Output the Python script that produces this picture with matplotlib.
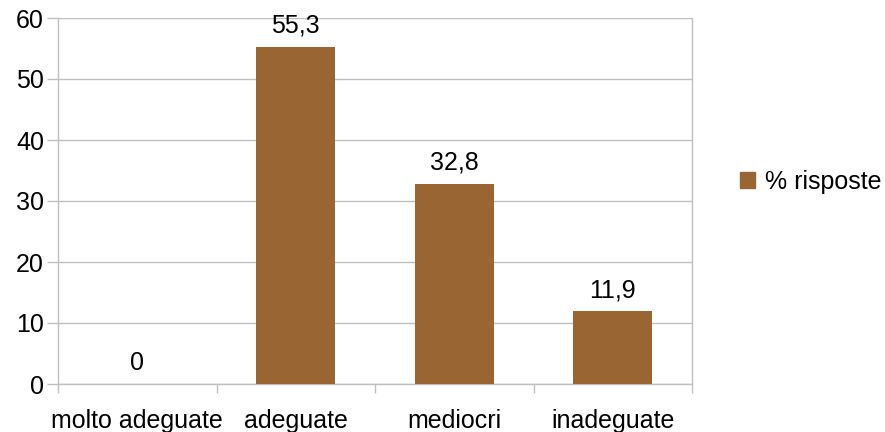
import matplotlib
matplotlib.use("Agg")
import matplotlib.pyplot as plt
from matplotlib.patches import Patch

categories = ["molto adeguate", "adeguate", "mediocri", "inadeguate"]
values = [0, 55.3, 32.8, 11.9]
series_name = "% risposte"
yticks = [0, 10, 20, 30, 40, 50, 60]

plt.rcParams['font.family'] = ['Liberation Sans', 'DejaVu Sans']
bar_color = "#996633"
grid_color = "#c0c0c0"

fig = plt.figure(figsize=(8.85, 4.32), dpi=100)
ax = fig.add_axes([58/885, 1-384/432, (692-58)/885, (384-18)/432])

x = list(range(len(categories)))
ax.bar(x, values, width=0.5, color=bar_color, zorder=3)
ax.set_xlim(-0.5, len(categories)-0.5)
ax.set_ylim(0, 60)
ax.set_yticks(yticks)
ax.set_yticklabels([str(t) for t in yticks], fontsize=18)
ax.yaxis.grid(True, color=grid_color, linewidth=1, zorder=0)
ax.set_axisbelow(True)

# category labels at centers, ticks at boundaries
ax.set_xticks(x)
ax.set_xticklabels(categories, fontsize=18)
ax.tick_params(axis='x', which='major', length=0, pad=18)
ax.set_xticks([i - 0.5 for i in range(len(categories)+1)], minor=True)
ax.tick_params(axis='x', which='minor', length=6.5, color=grid_color, width=1)
ax.tick_params(axis='y', length=8, color=grid_color, width=1, pad=2)

for s in ['left', 'right', 'bottom']:
    ax.spines[s].set_color(grid_color)
    ax.spines[s].set_linewidth(1)
ax.spines['top'].set_visible(False)

for xi, v in zip(x, values):
    lab = ("%g" % v).replace('.', ',')
    ax.annotate(lab, (xi, v), xytext=(0, 6.5), textcoords='offset points',
                ha='center', va='bottom', fontsize=18)

h = [Patch(facecolor=bar_color, edgecolor=bar_color)]
fig.legend(h, [series_name], loc='center left', bbox_to_anchor=(740/885, 1-182/432),
           frameon=False, fontsize=18, handlelength=0.6, handleheight=0.6,
           handletextpad=0.4, borderpad=0, borderaxespad=0)

fig.savefig("out.png", dpi=100)
